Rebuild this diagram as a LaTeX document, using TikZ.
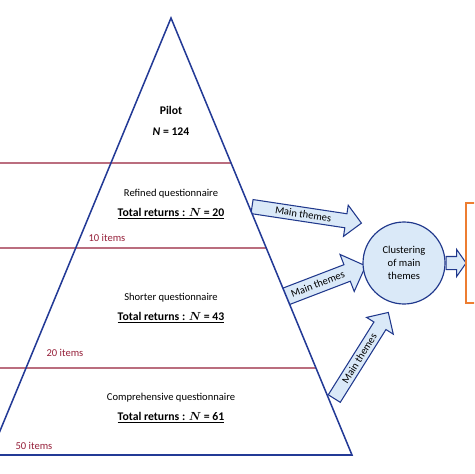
\documentclass[tikz,border=0pt]{standalone}
\usepackage{fontspec}
\setmainfont{Carlito}
\usepackage{tikz}
\usetikzlibrary{shapes.arrows, calc}
\definecolor{triblue}{RGB}{35,58,150}
\definecolor{arrblue}{RGB}{32,56,140}
\definecolor{arrfill}{RGB}{218,233,248}
\definecolor{lvlred}{RGB}{150,32,58}
\definecolor{boxorange}{RGB}{237,125,49}
\tikzset{
  pyramid/.style={draw=triblue, line width=1.3pt},
  level/.style={draw=lvlred, line width=1.1pt},
  itemlabel/.style={font=\small, text=lvlred},
  stagetitle/.style={font=\small},
  stagecount/.style={font=\fontsize{10}{12}\selectfont\bfseries},
  themearrow/.style={single arrow, draw=arrblue, fill=arrfill, line width=0.9pt,
    font=\small, text height=6pt, text depth=0pt, inner xsep=2pt, inner ysep=2.6pt,
    single arrow head extend=2.6mm, anchor=tail},
  hub/.style={circle, draw=arrblue, fill=arrfill, line width=1pt,
    minimum size=24.6mm, inner sep=0pt, align=center, font=\small},
  outbox/.style={draw=boxorange, line width=1pt}
}
\begin{document}
\begin{tikzpicture}[x=0.3mm, y=-0.3mm]
  \clip (0,0) rectangle (474,474);
  % pyramid corners
  \coordinate (apex) at (171,18);
  \coordinate (bl) at (-10,455);
  \coordinate (br) at (352,455);
  % theme arrows (the pyramid covers their tails)
  \node[themearrow, rotate=-8.6, minimum height=33.2mm] (theme1) at (251.5,206.5) {Main themes};
  \node[themearrow, rotate=21, minimum height=28.1mm, inner ysep=4.1pt,
        single arrow head extend=3.3mm] (theme2) at (277.7,299.6) {Main themes};
  \node[themearrow, rotate=57.9, minimum height=30.5mm] (theme3) at (334,399) {Main themes};
  % pyramid and its levels
  \fill[white] (apex) -- (br) -- (bl) -- cycle;
  \draw[level] (0,163) -- ($(apex)!0.3318!(br)$);
  \draw[level] (0,248) -- ($(apex)!0.5263!(br)$);
  \draw[level] (0,368) -- ($(apex)!0.8009!(br)$);
  \draw[pyramid] (apex) -- (br) -- (bl) -- cycle;
  % stages
  \node[stagecount] (pilot) at (171,110) {Pilot};
  \node[stagecount] (pilotn) at (171,132) {\textit{N} = 124};
  \node[stagetitle] (refined) at (171,194) {Refined questionnaire};
  \node[stagecount] (refinedn) at (171,214) {\underline{Total returns : {\boldmath$N$} = 20}};
  \node[stagetitle] (shorter) at (171,298) {Shorter questionnaire};
  \node[stagecount] (shortern) at (171,318) {\underline{Total returns : {\boldmath$N$} = 43}};
  \node[stagetitle] (compr) at (171,398) {Comprehensive questionnaire};
  \node[stagecount] (comprn) at (171,418) {\underline{Total returns : {\boldmath$N$} = 61}};
  % item counts
  \node[itemlabel] (items10) at (107,238) {10 items};
  \node[itemlabel] (items20) at (65,353) {20 items};
  \node[itemlabel] (items50) at (34,446) {50 items};
  % clustering
  \node[hub] (hub) at (404,263) {Clustering\\of main\\themes};
  \node[themearrow, minimum height=6mm, text height=0pt, inner xsep=0pt, inner ysep=1.8mm,
        single arrow head extend=2.1mm, single arrow tip angle=110] (toout) at (hub.east) {};
  \draw[outbox] (466,203) rectangle (490,303);
\end{tikzpicture}
\end{document}
